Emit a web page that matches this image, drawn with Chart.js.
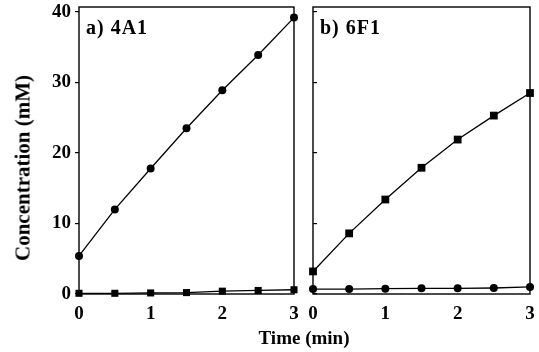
<!DOCTYPE html>
<html>
<head>
<meta charset="utf-8">
<script src="https://cdn.jsdelivr.net/npm/chart.js@4"></script>
<style>
  body { margin: 0; background: #fff; }
  #wrap { position: relative; width: 539px; height: 352px; overflow: hidden; }
  canvas { position: absolute; top: 0; }
  .lbl { position: absolute; font-family: 'Liberation Serif', serif; font-weight: bold; color: #000; white-space: nowrap; }
</style>
</head>
<body>
<div id="wrap">
  <canvas id="chartA" style="left:0px" width="300" height="352"></canvas>
  <canvas id="chartB" style="left:300px" width="239" height="352"></canvas>
  <div class="lbl" id="ytitle" style="font-size:21px; left:23px; top:168px; transform: translate(-50%,-50%) rotate(-90deg);">Concentration (mM)</div>
  <div class="lbl" id="xtitle" style="font-size:19px; left:304px; top:338px; transform: translate(-50%,-50%);">Time (min)</div>
</div>
<script>
const times = [0, 0.5, 1, 1.5, 2, 2.5, 3];

// panel a) 4A1
const a_circles = [5.4, 12.0, 17.8, 23.5, 28.9, 33.9, 39.2];
const a_squares = [0.1, 0.1, 0.15, 0.2, 0.4, 0.5, 0.6];

// panel b) 6F1
const b_squares = [3.2, 8.6, 13.4, 17.9, 21.9, 25.3, 28.5];
const b_circles = [0.7, 0.7, 0.75, 0.8, 0.8, 0.85, 1.0];

const yTicks = [0, 10, 20, 30, 40];
const xTicks = [0, 1, 2, 3];

const serif = "'Liberation Serif', 'Times New Roman', serif";

const toPts = (ys) => ys.map((y, i) => ({ x: times[i], y: y }));

const series = (ys, style, r) => ({
  data: toPts(ys),
  borderColor: '#000',
  backgroundColor: '#000',
  borderWidth: 1.3,
  pointStyle: style,
  pointRadius: r,
  pointBorderWidth: 0,
  tension: 0,
  clip: false,
});

// box around the plot area + the panel tag
const framePlugin = {
  id: 'frame',
  afterDatasetsDraw(chart, args, opts) {
    const { ctx, chartArea: ca } = chart;
    ctx.save();
    ctx.strokeStyle = '#000';
    ctx.lineWidth = 1.4;
    ctx.strokeRect(ca.left, ca.top, ca.right - ca.left, ca.bottom - ca.top);
    ctx.fillStyle = '#000';
    ctx.font = 'bold 20px ' + serif;
    ctx.letterSpacing = '1px';
    ctx.textBaseline = 'alphabetic';
    ctx.fillText(opts.tag, ca.left + 7, ca.top + 27);
    ctx.restore();
  },
};

function makeChart(id, sets, tag, showYLabels, yWidth, rightPad) {
  return new Chart(document.getElementById(id).getContext('2d'), {
    type: 'line',
    data: { datasets: sets },
    options: {
      responsive: false,
      animation: false,
      layout: { padding: { top: 7, right: rightPad, bottom: 0, left: 0 } },
      plugins: {
        legend: { display: false },
        tooltip: { enabled: false },
        frame: { tag: tag },
      },
      scales: {
        x: {
          type: 'linear',
          min: 0,
          max: 3,
          afterBuildTicks: (scale) => { scale.ticks = xTicks.map((v) => ({ value: v })); },
          afterFit: (scale) => {
            scale.height = 58;
            scale.paddingLeft = 0;
            scale.paddingRight = 0;
          },
          grid: { display: true, drawOnChartArea: false, drawTicks: false },
          border: { display: false },
          ticks: { color: '#000', padding: 9, font: { family: serif, size: 19, weight: 'bold' } },
        },
        y: {
          type: 'linear',
          min: 0,
          max: 40.7,
          afterBuildTicks: (scale) => { scale.ticks = yTicks.map((v) => ({ value: v })); },
          afterFit: (scale) => {
            scale.width = yWidth;
            scale.paddingTop = 0;
            scale.paddingBottom = 0;
          },
          grid: { display: true, drawOnChartArea: false, drawTicks: true, tickLength: showYLabels ? 4 : -4, color: '#000', lineWidth: 1.2 },
          border: { display: false },
          ticks: {
            display: showYLabels,
            color: '#000',
            padding: 4,
            font: { family: serif, size: 19, weight: 'bold' },
          },
        },
      },
    },
    plugins: [framePlugin],
  });
}

makeChart('chartA', [series(a_circles, 'circle', 4), series(a_squares, 'rect', 5)], 'a) 4A1', true, 79, 6);
makeChart('chartB', [series(b_squares, 'rect', 5.5), series(b_circles, 'circle', 4)], 'b) 6F1', false, 13, 9);
</script>
</body>
</html>
